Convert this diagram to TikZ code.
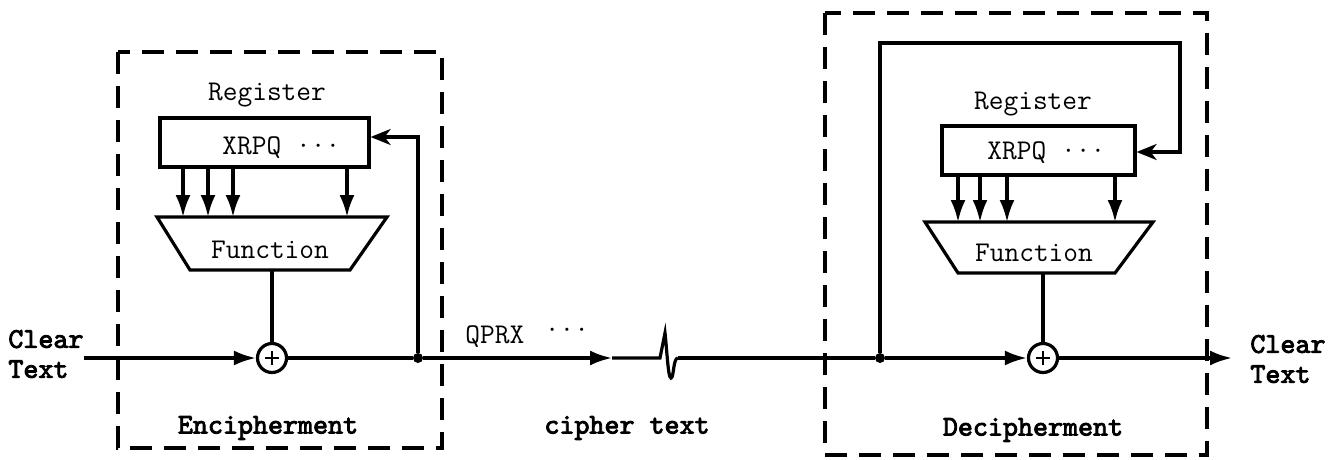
\documentclass[tikz,border=0pt]{standalone}
\usepackage{fontspec}
\newfontfamily\heavytt[FakeBold=3]{lmmono10-regular.otf}
\usetikzlibrary{arrows.meta}
\begin{document}
\begin{tikzpicture}[x=0.5pt,y=-0.5pt,
  wire/.style={line width=1.6pt},
  frame/.style={line width=2pt, dash pattern=on 11pt off 6pt},
  arr/.style={wire,-{Latex[length=11pt,width=7.5pt]}},
  fb/.style={wire,-{Stealth[length=10pt,width=8pt,inset=3pt]}},
  lbl/.style={font=\ttfamily\fontsize{14.3pt}{16pt}\selectfont, inner sep=0pt},
  blbl/.style={font=\heavytt\fontsize{14.3pt}{15pt}\selectfont, inner sep=0pt},
  regbox/.style={draw, wire, inner sep=0pt, minimum height=24.5pt},
  xorgate/.style={circle, draw, wire, minimum size=14.5pt, inner sep=0pt, fill=white,
    path picture={\draw[line width=0.9pt]
      ([xshift=-3.5pt]path picture bounding box.center) -- ([xshift=3.5pt]path picture bounding box.center)
      ([yshift=-3.5pt]path picture bounding box.center) -- ([yshift=3.5pt]path picture bounding box.center);}},
  junction/.style={circle, fill, inner sep=0pt, minimum size=5pt},
]
\useasboundingbox (0,0) rectangle (1338,460);

% ---------- encipherment ----------
\draw[frame] (118,52) rectangle (442,448);
\node[lbl] (regt1) at (267,95) {Register};
\node[regbox, minimum width=104.5pt] (reg1) at (264.5,142.5) {};
\node[lbl, anchor=west] (cont1) at (222,148) {XRPQ ···};
\draw[wire] (157,217) coordinate (f1tl) -- (387,217) coordinate (f1tr)
  -- (350,270) coordinate (f1br) -- (190,270) coordinate (f1bl) -- cycle;
\node[lbl] (fn1) at (270,250) {Function};
\coordinate (f1out) at (272,270);
\foreach \xx in {183,208,233,347}
  \draw[arr] (\xx,0 |- reg1.south) -- (\xx,0 |- f1tl);
\node[xorgate] (x1) at (272,358) {};
\node[junction] (j1) at (418,358) {};
\coordinate (in1) at (84,358);
\node[blbl, anchor=west, align=left] (clr1) at (8,354) {Clear\\Text};
\draw[arr] (in1) -- (x1);
\draw[wire] (f1out) -- (x1);
\draw[wire] (x1) -- (j1);
\draw[fb] (j1) |- (reg1.east |- 0,137);
\node[blbl] (enc) at (268,428) {Encipherment};

% ---------- cipher text channel ----------
\coordinate (ah) at (612,358);
\coordinate (b0) at (660,358);
\coordinate (b1) at (678,358);
\node[lbl, anchor=west] (qprx) at (465,337) {QPRX};
\node[lbl] (qdots) at (567,333) {···};
\draw[arr] (j1) -- (ah);
\draw[wire] (ah) -- (b0) -- (665,333)
  .. controls (667,350) and (668,378) .. (671,378)
  .. controls (674,378) and (673,358) .. (b1);
\node[blbl] (ct) at (627,428) {cipher text};

% ---------- decipherment ----------
\draw[frame] (825,13) rectangle (1207,455);
\node[junction] (j2) at (880,358) {};
\draw[wire] (b1) -- (j2);
\node[lbl] (regt2) at (1033,104) {Register};
\node[regbox, minimum width=96.5pt] (reg2) at (1038.5,150.5) {};
\node[lbl, anchor=west] (cont2) at (987,153) {XRPQ ···};
\draw[wire] (925,222) coordinate (f2tl) -- (1153,222) coordinate (f2tr)
  -- (1115,273) coordinate (f2br) -- (958,273) coordinate (f2bl) -- cycle;
\node[lbl] (fn2) at (1034,253) {Function};
\coordinate (f2out) at (1043,273);
\foreach \xx in {958,980,1007,1115}
  \draw[arr] (\xx,0 |- reg2.south) -- (\xx,0 |- f2tl);
\node[xorgate] (x2) at (1043,358) {};
\coordinate (out2) at (1232,358);
\draw[wire] (f2out) -- (x2);
\draw[arr] (j2) -- (x2);
\draw[arr] (x2) -- (out2);
\coordinate (fbtop) at (1180,43);
\draw[fb] (j2) |- (fbtop) |- (reg2.east |- 0,152);
\node[blbl, anchor=west, align=left] (clr2) at (1250,359) {Clear\\Text};
\node[blbl] (dec) at (1033,430) {Decipherment};
\end{tikzpicture}
\end{document}
